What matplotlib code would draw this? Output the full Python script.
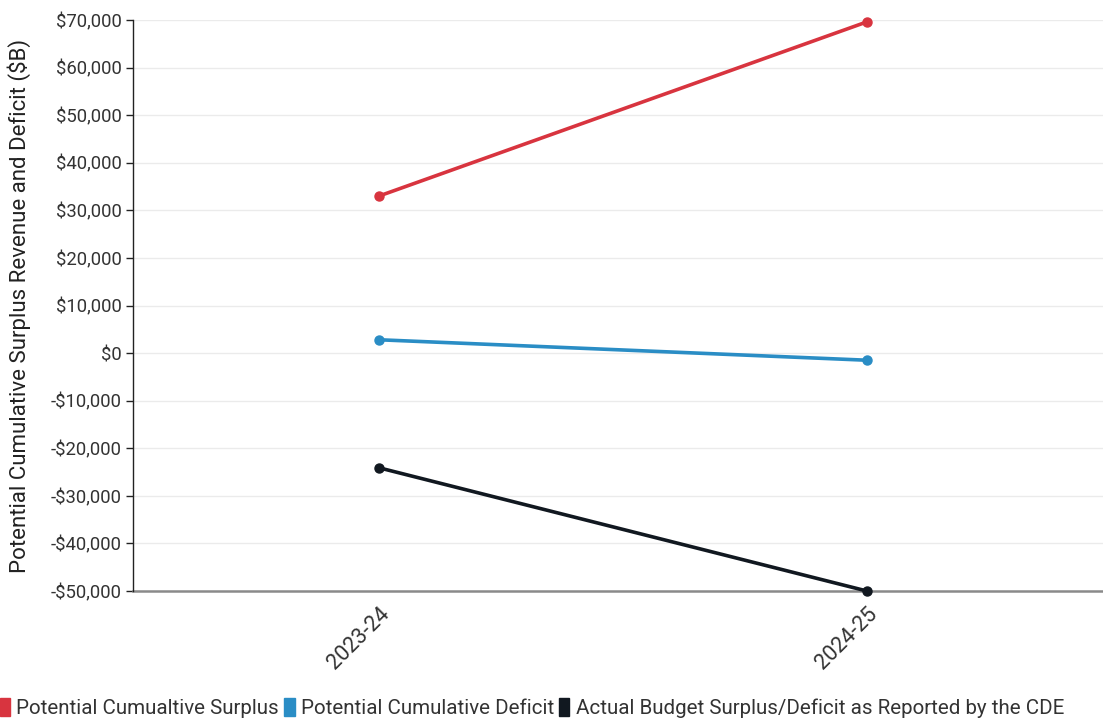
import matplotlib.pyplot as plt
from matplotlib.patches import Patch
from matplotlib.ticker import FuncFormatter

plt.rcParams['font.family'] = ['Roboto', 'DejaVu Sans']

years = ['2023-24', '2024-25']
surplus = [33000, 69600]
deficit = [2800, -1500]
actual = [-24100, -50000]

series_names = ['Potential Cumualtive Surplus', 'Potential Cumulative Deficit',
                'Actual Budget Surplus/Deficit as Reported by the CDE']
colors = ['#d8343f', '#2a8dc5', '#111820']

fig = plt.figure(figsize=(11.03, 7.21), dpi=100)
ax = fig.add_axes([133 / 1103, 130 / 721, (1103 - 133) / 1103, 571 / 721])

x = list(range(len(years)))
for vals, c in zip([surplus, deficit, actual], colors):
    ax.plot(x, vals, color=c, lw=2.6, marker='o', ms=6.5, zorder=3, clip_on=False)

ax.set_ylim(-50000, 70000)
ax.set_yticks(range(-50000, 70001, 10000))
ax.yaxis.set_major_formatter(FuncFormatter(lambda v, p: f"-${abs(v):,.0f}" if v < 0 else f"${v:,.0f}"))
ax.set_xlim(-0.504, 1.484)
ax.set_xticks(x)
ax.set_xticklabels(years, rotation=45, ha='right', rotation_mode='anchor')

ax.grid(axis='y', color='#ebebeb', lw=1.0)
ax.set_axisbelow(True)
for s in ['top', 'right']:
    ax.spines[s].set_visible(False)
ax.spines['left'].set_color('#222222')
ax.spines['left'].set_linewidth(1.0)
ax.spines['bottom'].set_color('#8a8a8a')
ax.spines['bottom'].set_linewidth(1.8)
ax.spines['bottom'].set_zorder(2)
ax.tick_params(axis='y', length=5, width=1, color='#222222', labelsize=13.3, labelcolor='#333333', pad=3)
ax.tick_params(axis='x', length=0, labelsize=15.5, labelcolor='#333333', pad=9)

ax.set_ylabel('Potential Cumulative Surplus Revenue and Deficit ($B)', fontsize=16, color='#222222')
ax.yaxis.set_label_coords(-0.105, 0.5)

handles = [Patch(facecolor=c, edgecolor=c) for c in colors]
fig.legend(handles, series_names, loc='lower left', bbox_to_anchor=(-0.013, -0.016), ncol=3,
           frameon=False, fontsize=14.8, handlelength=0.5, handleheight=1.0,
           handletextpad=0.3, columnspacing=0.25, borderpad=0.2, labelcolor='#333333')

fig.savefig('out.png', dpi=100)
